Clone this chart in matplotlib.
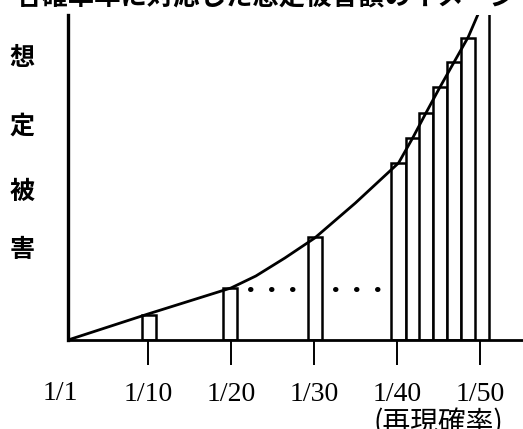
import matplotlib
matplotlib.use("Agg")
import matplotlib.pyplot as plt
from matplotlib.patches import Rectangle

# return period (years) and estimated damage (arbitrary units)
curve_T = [0.36, 10.0, 20.0, 23.0, 26.5, 30.1, 35.0, 40.2, 41.9, 43.5, 45.2, 46.9, 48.6, 50.0]
curve_D = [0, 26, 52, 64, 82, 102, 137, 177, 202, 227, 253, 278, 303, 330]

bar_T = [10.1, 19.9, 30.1, 40.2, 41.9, 43.5, 45.2, 46.9, 48.6]
bar_D = [25, 52, 103, 177, 202, 227, 253, 278, 302]
bar_w = 1.7

tick_pos = [10, 20, 30, 40, 50]
tick_labels = ["1/10", "1/20", "1/30", "1/40", "1/50"]
first_label = "1/1"
end_line = 51.1
dots_y = 51
dot_runs = [(22.3, 27.9), (32.6, 38.0)]

title = "各確率年に対応した想定被害額のイメージ"
ylabel_chars = ["想", "定", "被", "害"]
xlabel = "(再現確率)"

jp = ["Noto Sans CJK JP", "DejaVu Sans"]
num_font = "Liberation Serif"

fig = plt.figure(figsize=(5.23, 4.29), dpi=100)
ax = fig.add_axes([68 / 523, 89 / 429, 1 - 68 / 523, 325 / 429])
ax.set_xlim(0.36, 55.2)
ax.set_ylim(0, 325)

for s in ["top", "right"]:
    ax.spines[s].set_visible(False)
ax.spines["left"].set_linewidth(2.4)
ax.spines["bottom"].set_linewidth(2.0)
ax.set_yticks([])

ax.set_xticks(tick_pos)
ax.set_xticklabels(tick_labels, fontfamily=num_font, fontsize=20)
ax.tick_params(axis="x", direction="out", length=18, width=1.4, pad=12)
ax.text(-0.6, -0.165, first_label, transform=ax.get_xaxis_transform(),
        ha="center", va="center", fontfamily=num_font, fontsize=20, clip_on=False)

# bars
for t, d in zip(bar_T, bar_D):
    ax.add_patch(Rectangle((t - bar_w / 2, 0), bar_w, d, facecolor="white",
                           edgecolor="black", linewidth=1.8, zorder=2))

ax.axvline(end_line, color="black", linewidth=1.8)

# damage curve
ax.plot(curve_T, curve_D, color="black", linewidth=2.0, zorder=3)

for x0, x1 in dot_runs:
    ax.plot([x0, x1], [dots_y, dots_y], color="black", linewidth=3.6,
            linestyle=(0, (0.1, 4.1)), dash_capstyle="round")

# labels
for ch, ypx in zip(ylabel_chars, [58, 127, 192, 250]):
    fig.text(22 / 523, 1 - ypx / 429, ch, ha="center", va="center",
             fontfamily=jp, fontsize=18, fontweight="bold")

fig.text(438 / 523, 1 - 423 / 429, xlabel, ha="center", va="center",
         fontfamily=jp, fontsize=20)

# title is cut by the top edge in the reference
fig.text(15 / 523, 1 - 12 / 429, title, ha="left", va="bottom",
         fontfamily=jp, fontsize=19, fontweight="bold")

fig.savefig("out.png", dpi=100)
